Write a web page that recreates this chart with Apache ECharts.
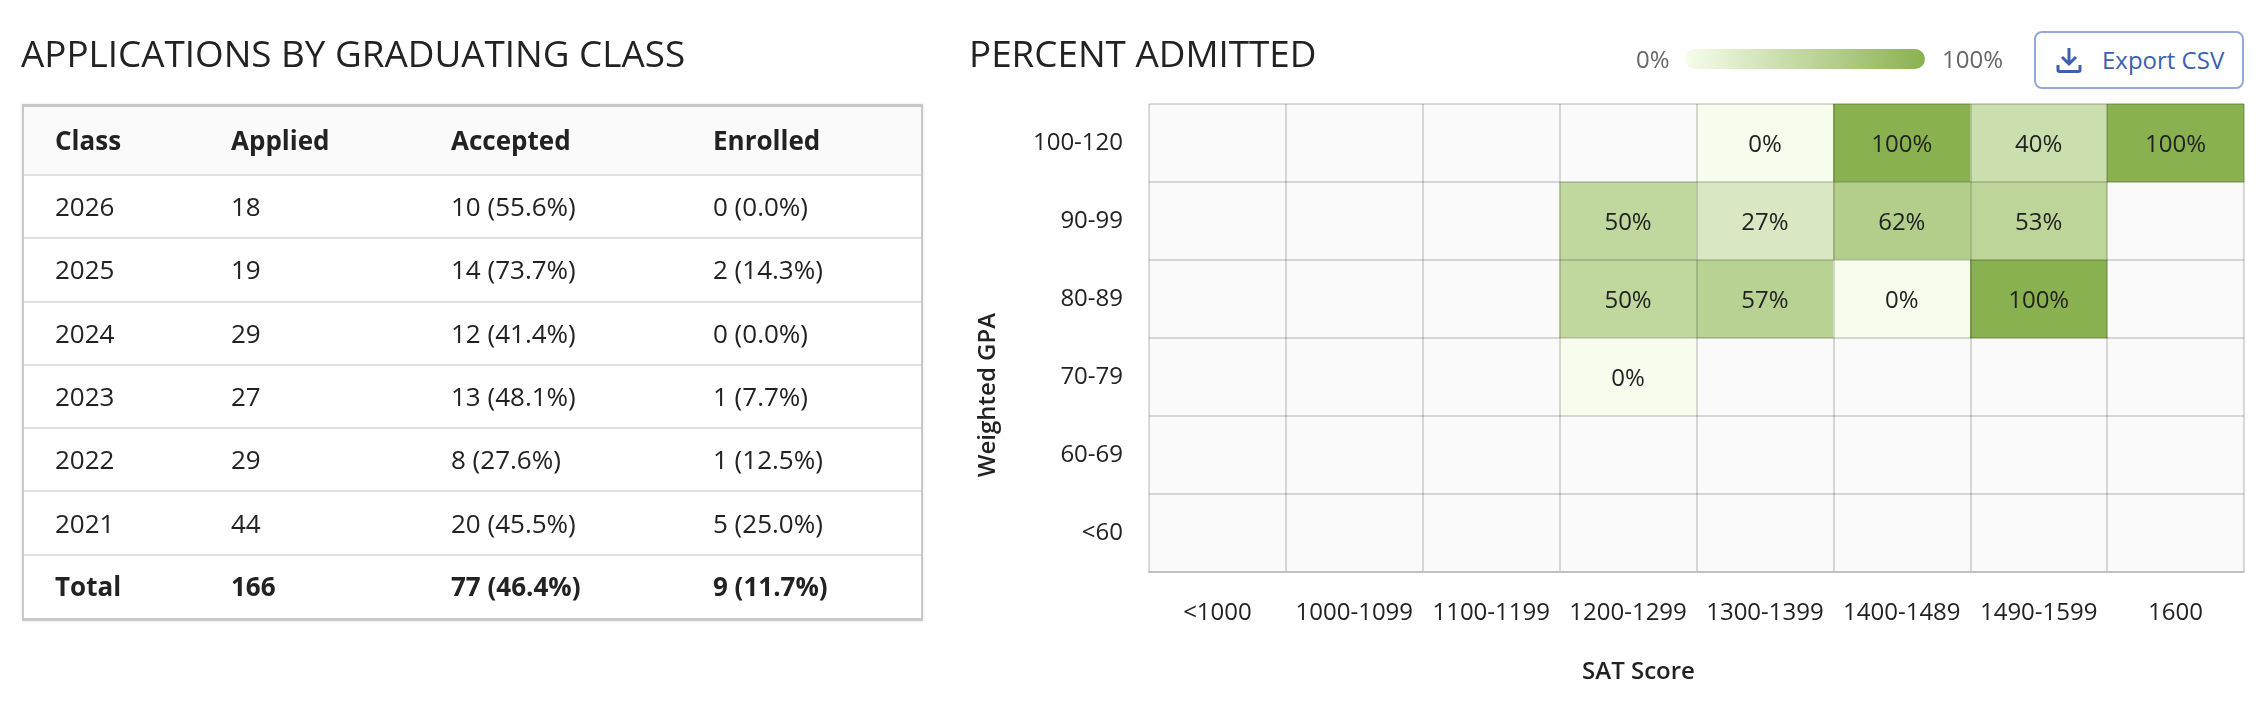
<!DOCTYPE html>
<html><head><meta charset="utf-8">
<script src="https://cdn.jsdelivr.net/npm/echarts@6/dist/echarts.min.js"></script>
<style>
html,body{margin:0;padding:0;background:#fff;width:2266px;height:714px;overflow:hidden;font-family:"Open Sans",sans-serif;color:#222}
#chart{position:absolute;left:0;top:0;width:2266px;height:714px}
.ttl{position:absolute;margin:0;top:29px;font-size:36.8px;line-height:48px;font-weight:400;color:#222;white-space:nowrap}
#wrap{position:absolute;left:22px;top:104px;width:901px;height:517px;box-sizing:border-box;border:2px solid #c8c8c8;border-top-width:3px;border-bottom-width:3px;box-shadow:0 0 3px rgba(0,0,0,.12);background:#fff}
table{border-collapse:collapse;table-layout:fixed;width:897px;font-size:26px}
th,td{padding:0 0 1px 31px;text-align:left;height:63.3px;box-sizing:border-box;border-bottom:2px solid #e0e0e0}
thead th{height:68px;background:#fafafa;font-weight:700}
tr:last-child td{border-bottom:none}
tr.tot td{font-weight:700}
#btn{position:absolute;left:2034px;top:31px;width:210px;height:58px;box-sizing:border-box;border:2px solid #94a9da;border-radius:8px;background:#fff;color:#3c5fb0;font-size:24px;line-height:53px;padding-left:66px}
#btn svg{position:absolute;left:20px;top:14px}
</style></head><body>
<div id="chart"></div>
<h2 class="ttl" style="left:21px">APPLICATIONS BY GRADUATING CLASS</h2>
<h2 class="ttl" style="left:969px">PERCENT ADMITTED</h2>
<div id="wrap"><table id="tbl"></table></div>
<div id="btn"><svg width="26" height="26" viewBox="0 0 26 26" fill="none" stroke="#3c5fb0" stroke-width="3"><path d="M13 1v15M6 10l7 7 7-7"/><path d="M2 18v5a1.5 1.5 0 0 0 1.5 1.5h19a1.5 1.5 0 0 0 1.5-1.5v-5"/></svg>Export CSV</div>
<script>
// ---- table data ----
const tableHeader = ['Class','Applied','Accepted','Enrolled'];
const classes  = ['2026','2025','2024','2023','2022','2021'];
const applied  = ['18','19','29','27','29','44'];
const accepted = ['10 (55.6%)','14 (73.7%)','12 (41.4%)','13 (48.1%)','8 (27.6%)','20 (45.5%)'];
const enrolled = ['0 (0.0%)','2 (14.3%)','0 (0.0%)','1 (7.7%)','1 (12.5%)','5 (25.0%)'];
const totals   = ['Total','166','77 (46.4%)','9 (11.7%)'];

// ---- heatmap data ----
const satBands = ['<1000','1000-1099','1100-1199','1200-1299','1300-1399','1400-1489','1490-1599','1600'];
const gpaBands = ['100-120','90-99','80-89','70-79','60-69','<60'];
const row100 = [null,null,null,null,0,100,40,100];
const row90  = [null,null,null,50,27,62,53,null];
const row80  = [null,null,null,50,57,0,100,null];
const row70  = [null,null,null,0,null,null,null,null];
const row60  = [null,null,null,null,null,null,null,null];
const rowLt  = [null,null,null,null,null,null,null,null];
const rows = [row100,row90,row80,row70,row60,rowLt];
const lowColor = '#f6fdec', highColor = '#8ab150';

// build table
const widths = [176,220,262,239];
let html = '<colgroup>' + widths.map(w=>`<col style="width:${w}px">`).join('') + '</colgroup>';
html += '<thead><tr>' + tableHeader.map(h=>`<th>${h}</th>`).join('') + '</tr></thead><tbody>';
classes.forEach((c,i)=>{ html += `<tr><td>${c}</td><td>${applied[i]}</td><td>${accepted[i]}</td><td>${enrolled[i]}</td></tr>`; });
html += '<tr class="tot">' + totals.map(t=>`<td>${t}</td>`).join('') + '</tr></tbody>';
document.getElementById('tbl').innerHTML = html;

// build heatmap
const data = [];
rows.forEach((r,y)=>r.forEach((v,x)=>{ if(v!==null) data.push([x,y,v]); }));
const font = '"Open Sans"';
const chart = echarts.init(document.getElementById('chart'));
chart.setOption({
  animation:false,
  backgroundColor:'#fff',
  grid:{left:1149,top:104,width:1095,height:468,show:true,backgroundColor:'#fafafa',borderWidth:0,containLabel:false},
  xAxis:{type:'category',data:satBands,z:3,
    axisLine:{show:true,lineStyle:{color:'#c0c0c0',width:2}},axisTick:{show:false},
    axisLabel:{interval:0,margin:29,fontFamily:font,fontSize:24,color:'#222'},
    splitLine:{show:true,interval:0,lineStyle:{color:'rgba(0,0,0,0.14)',width:2}},
    name:'SAT Score',nameLocation:'middle',nameGap:88,
    nameTextStyle:{fontFamily:font,fontSize:24,fontWeight:600,color:'#222',padding:[0,116,0,0]}},
  yAxis:{type:'category',data:gpaBands,inverse:true,z:3,
    axisLine:{show:false},axisTick:{show:false},
    axisLabel:{interval:0,margin:26,fontFamily:font,fontSize:24,color:'#222',padding:[5,0,0,0]},
    splitLine:{show:true,interval:0,lineStyle:{color:'rgba(0,0,0,0.14)',width:2}},
    name:'Weighted GPA',nameLocation:'middle',nameGap:149,
    nameTextStyle:{fontFamily:font,fontSize:24,fontWeight:600,color:'#222',padding:[0,114,0,0]}},
  visualMap:{show:false,min:0,max:100,dimension:2,inRange:{color:[lowColor,highColor]}},
  series:[{type:'heatmap',data,
    label:{show:true,fontFamily:font,fontSize:24,color:'#222',offset:[0,2],formatter:p=>p.value[2]+'%'},
    itemStyle:{borderWidth:0},emphasis:{disabled:true}}],
  graphic:[
    {type:'text',left:1636,top:49,style:{text:'0%',font:'24px "Open Sans"',fill:'#666'}},
    {type:'rect',left:1685,top:49,shape:{width:240,height:20,r:10},
      style:{fill:new echarts.graphic.LinearGradient(0,0,1,0,[{offset:0,color:lowColor},{offset:1,color:highColor}])}},
    {type:'text',left:1942,top:49,style:{text:'100%',font:'24px "Open Sans"',fill:'#666'}}
  ]
});
</script>
</body></html>
